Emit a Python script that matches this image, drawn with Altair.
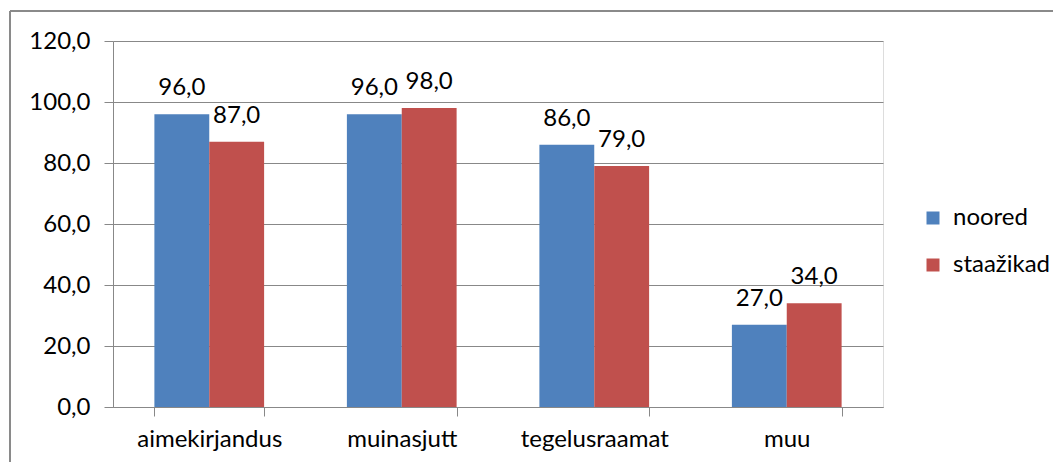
import altair as alt
import pandas as pd

categories = ["aimekirjandus", "muinasjutt", "tegelusraamat", "muu"]
series = ["noored", "staažikad"]
noored = [96.0, 96.0, 86.0, 27.0]
staazikad = [87.0, 98.0, 79.0, 34.0]
colors = ["#4F81BD", "#C0504D"]
y_ticks = [0, 20, 40, 60, 80, 100, 120]

rows = []
for c, a, b in zip(categories, noored, staazikad):
    rows.append({"cat": c, "series": series[0], "v": a})
    rows.append({"cat": c, "series": series[1], "v": b})
df = pd.DataFrame(rows)

FONT = "Lato"
FS = 24
W, H = 770, 366

x_enc = alt.X("cat:N", sort=categories, title=None,
              scale=alt.Scale(paddingInner=0.43, paddingOuter=0.215),
              axis=alt.Axis(labelAngle=0, tickBand="extent", tickSize=9,
                            tickColor="#888888", domainColor="#888888",
                            labelFont=FONT, labelFontSize=FS, labelColor="#000000",
                            labelPadding=11, grid=False))
y_enc = alt.Y("v:Q", title=None,
              scale=alt.Scale(domain=[0, 120], nice=False),
              axis=alt.Axis(values=y_ticks, tickSize=9, tickColor="#888888",
                            domainColor="#888888", gridColor="#888888",
                            labelExpr="replace(format(datum.value, '.1f'), '.', ',')",
                            labelFont=FONT, labelFontSize=FS, labelColor="#000000",
                            labelPadding=14))

base = alt.Chart(df)

bars = base.mark_bar().encode(
    x=x_enc,
    y=y_enc,
    xOffset=alt.XOffset("series:N", sort=series),
    color=alt.Color("series:N", sort=series,
                    scale=alt.Scale(domain=series, range=colors),
                    legend=alt.Legend(title=None, orient="none", legendX=808, legendY=165,
                                      symbolType="square", symbolSize=169,
                                      symbolStrokeWidth=0, labelFont=FONT,
                                      labelFontSize=FS, labelColor="#000000",
                                      labelOffset=8, rowPadding=23)),
)

labels = base.transform_calculate(
    lbl="replace(format(datum.v, '.1f'), '.', ',')"
).mark_text(font=FONT, fontSize=FS, color="#000000", baseline="alphabetic", dy=-19).encode(
    x=alt.X("cat:N", sort=categories),
    xOffset=alt.XOffset("series:N", sort=series),
    y="v:Q",
    text="lbl:N",
)

border_top = alt.Chart(pd.DataFrame({"a": [0]})).mark_rule(color="#8a8a8a", strokeWidth=2).encode(
    x=alt.value(-103), x2=alt.value(1000), y=alt.value(-30))
border_left = alt.Chart(pd.DataFrame({"a": [0]})).mark_rule(color="#8a8a8a", strokeWidth=2).encode(
    x=alt.value(-103), y=alt.value(-30), y2=alt.value(600))

chart = alt.layer(bars, labels, border_top, border_left).properties(
    width=W, height=H,
    autosize=alt.AutoSizeParams(type="none"),
    padding={"left": 105, "top": 33, "right": 170, "bottom": 55},
).configure_view(stroke=None).configure(background="#ffffff")

chart.save("out.html", embed_options={"renderer": "svg", "actions": False})
